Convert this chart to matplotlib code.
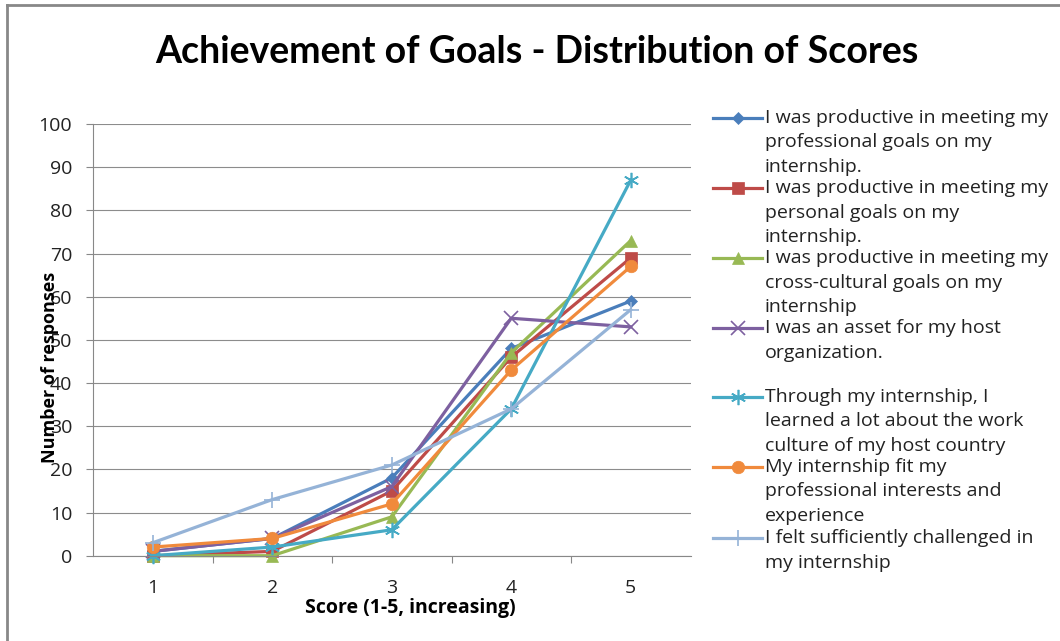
import numpy as np
import matplotlib
matplotlib.use("Agg")
import matplotlib.pyplot as plt
from matplotlib.lines import Line2D

plt.rcParams['font.family'] = ['Open Sans', 'DejaVu Sans']

scores = [1, 2, 3, 4, 5]

productive_professional = [1, 4, 18, 48, 59]
productive_personal = [0, 1, 15, 46, 69]
productive_crosscultural = [0, 0, 9, 47, 73]
asset_host = [1, 4, 16, 55, 53]
learned_culture = [0, 2, 6, 34, 87]
fit_interests = [2, 4, 12, 43, 67]
challenged = [3, 13, 21, 34, 57]

labels = [
    "I was productive in meeting my\nprofessional goals on my\ninternship.",
    "I was productive in meeting my\npersonal goals on my\ninternship.",
    "I was productive in meeting my\ncross-cultural goals on my\ninternship",
    "I was an asset for my host\norganization.",
    "Through my internship, I\nlearned a lot about the work\nculture of my host country",
    "My internship fit my\nprofessional interests and\nexperience",
    "I felt sufficiently challenged in\nmy internship",
]
series = [productive_professional, productive_personal, productive_crosscultural,
          asset_host, learned_culture, fit_interests, challenged]

colors = ['#4A7EBB', '#BE4B48', '#98B954', '#7D60A0', '#46AAC5', '#F08A3C', '#95B3D7']
markers = ['D', 's', '^', 'x', (6, 2, 0), 'o', '+']
msizes = [6.5, 8, 9, 10, 11, 9, 11]
fs = 14

W, H = 1060, 641
fig = plt.figure(figsize=(W / 100, H / 100), dpi=100)

def fx(px):
    return px / W

def fy(py):
    return 1 - py / H

ax = fig.add_axes([fx(93), fy(555.7), fx(690.5) - fx(93), fy(124) - fy(555.7)])

for vals, c, m, ms in zip(series, colors, markers, msizes):
    ax.plot(scores, vals, color=c, lw=2.3, marker=m, markersize=ms,
            markeredgewidth=1.2 if m in ('x', '+', (6, 2, 0)) else 0.5,
            markeredgecolor=c, clip_on=False)

ax.set_xlim(0.5, 5.5)
ax.set_ylim(0, 100)
ax.set_yticks(np.arange(0, 101, 10))
ax.set_xticks(scores)
ax.set_xticks(np.arange(1.5, 5.0, 1.0), minor=True)
ax.tick_params(axis='x', which='major', length=0, pad=17, labelsize=fs, labelcolor='#222222')
ax.tick_params(axis='x', which='minor', length=5, width=0.8, color='#888888', direction='out')
ax.tick_params(axis='y', length=5, width=0.8, color='#888888', pad=10, labelsize=fs,
               labelcolor='#222222')
ax.grid(axis='y', color='#8c8c8c', lw=0.8)
ax.set_axisbelow(True)
for s in ['top', 'right']:
    ax.spines[s].set_visible(False)
ax.spines['left'].set_color('#888888')
ax.spines['bottom'].set_color('#888888')
ax.spines['left'].set_linewidth(0.8)
ax.spines['bottom'].set_linewidth(0.8)

fig.text(fx(537), fy(52), "Achievement of Goals - Distribution of Scores",
         ha='center', va='center', fontsize=27, fontweight='bold', family=['Lato', 'DejaVu Sans'])
fig.text(fx(410), fy(608), "Score (1-5, increasing)", ha='center', va='center',
         fontsize=fs, fontweight='bold')
fig.text(fx(50), fy(367), "Number of responses", ha='center', va='center',
         rotation=90, fontsize=13, fontweight='bold')

# legend drawn by hand so entries keep Excel's even spacing
entry_y = [118, 188, 258, 328, 397, 467, 538]
for lab, c, m, ms, y0 in zip(labels, colors, markers, msizes, entry_y):
    fig.add_artist(Line2D([fx(713), fx(762)], [fy(y0), fy(y0)], color=c, lw=2.3))
    fig.add_artist(Line2D([fx(738)], [fy(y0)], color=c, marker=m, markersize=ms,
                          markeredgecolor=c,
                          markeredgewidth=1.2 if m in ('x', '+', (6, 2, 0)) else 0.5))
    for i, line in enumerate(lab.split('\n')):
        fig.text(fx(765), fy(y0 + i * 24.5), line, ha='left', va='center',
                 fontsize=fs, color='#222222')

# chart frame (top and left edges visible)
fig.add_artist(Line2D([fx(7), fx(W)], [fy(5), fy(5)], color='#888888', lw=2))
fig.add_artist(Line2D([fx(7), fx(7)], [fy(5), fy(H)], color='#888888', lw=2))

fig.savefig("out.png", dpi=100, facecolor='white')
